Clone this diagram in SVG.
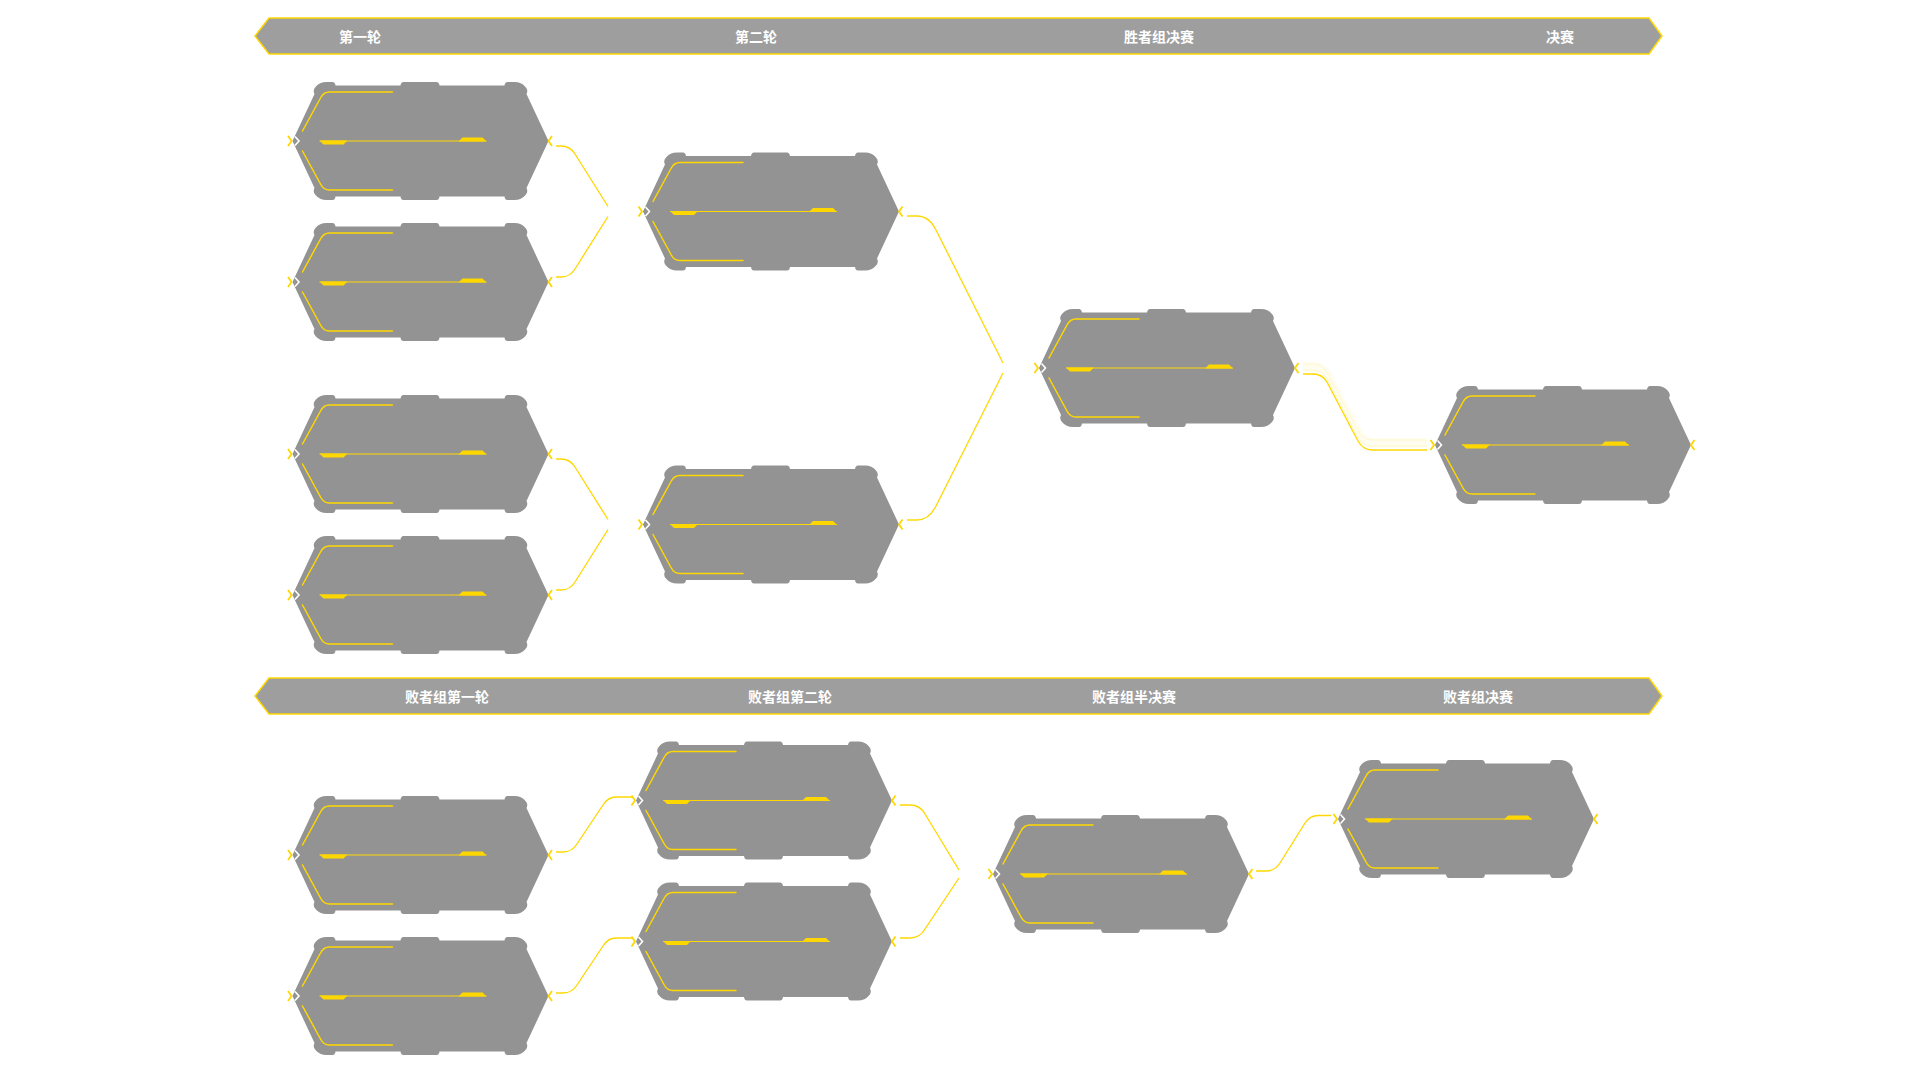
<svg xmlns="http://www.w3.org/2000/svg" xmlns:xlink="http://www.w3.org/1999/xlink" width="1920" height="1080" viewBox="0 0 1920 1080">
<style>
.bar{fill:#9e9e9e;stroke:#ffd700;stroke-width:1.5}
.lbl{font-family:"Noto Sans CJK SC","Noto Sans",sans-serif;font-size:14px;font-weight:bold;fill:#ffffff;text-anchor:middle;dominant-baseline:central}
.body{fill:#939393}
.deco{fill:none;stroke:#ffd700;stroke-width:1.5;stroke-linecap:round;stroke-linejoin:round}
.thin{fill:none;stroke:#ffd700;stroke-width:1}
.blk{fill:#ffd700}
.wch{fill:none;stroke:#ffffff;stroke-width:1.6}
.ych{fill:none;stroke:#ffd700;stroke-width:1.8}
.conn{fill:none;stroke:#ffd700;stroke-width:1.3}
.glow{fill:none;stroke:#fff8cc;stroke-width:1}
</style>
<defs>
<g id="node">
<path class="body" d="M0,0 L22,-47 Q20,-51 23,-54 Q27,-59 34,-59 L40,-59 Q42.5,-59 43,-55.5 L108,-55.5 Q108.5,-59 111,-59 L144,-59 Q146.5,-59 147,-55.5 L212,-55.5 Q212.5,-59 215,-59 L222,-59 Q229,-59 233,-54 Q236,-51 234,-47 L256,0 L234,47 Q236,51 233,54 Q229,59 222,59 L215,59 Q212.5,59 212,55.5 L147,55.5 Q146.5,59 144,59 L111,59 Q108.5,59 108,55.5 L43,55.5 Q42.5,59 40,59 L34,59 Q27,59 23,54 Q20,51 22,47 Z"/>
<path class="deco" d="M100,-49 H37 Q31,-49 28,-43 L10,-10"/>
<path class="deco" d="M100,49 H37 Q31,49 28,43 L10,10"/>
<path class="thin" d="M27,0 H194"/>
<polygon class="blk" points="27,-0.5 55,-0.5 51,3.5 31,3.5"/>
<polygon class="blk" points="166,0.5 194,0.5 190,-3.5 170,-3.5"/>
<polyline class="ych" points="-4.5,-5 -1,0 -4.5,5"/>
<polyline class="wch" points="2.5,-4.5 6.5,0 2.5,4.5"/>
<polyline class="ych" points="259.5,-5 256,0 259.5,5"/>
</g>
</defs>
<rect width="1920" height="1080" fill="#ffffff"/>

<g id="header-winners">
<polygon class="bar" points="255,36 269,18 1649,18 1662,36 1649,54 269,54"/>
<text class="lbl" x="360" y="36">第一轮</text>
<text class="lbl" x="756" y="36">第二轮</text>
<text class="lbl" x="1159" y="36">胜者组决赛</text>
<text class="lbl" x="1560" y="36">决赛</text>
</g>
<g id="header-losers">
<polygon class="bar" points="255,696 269,678 1649,678 1662,696 1649,714 269,714"/>
<text class="lbl" x="447" y="696">败者组第一轮</text>
<text class="lbl" x="790" y="696">败者组第二轮</text>
<text class="lbl" x="1134" y="696">败者组半决赛</text>
<text class="lbl" x="1478" y="696">败者组决赛</text>
</g>

<g id="connectors">
<path class="conn" d="M556,146 H561 Q570,146 575,154 L608,206.5"/>
<path class="conn" d="M556,277 H561 Q570,277 575,269 L608,216.5"/>
<path class="conn" d="M556,459 H561 Q570,459 575,467 L608,519.5"/>
<path class="conn" d="M556,590 H561 Q570,590 575,582 L608,529.5"/>
<path class="conn" d="M907,216 H917 Q929,216 936,230 L1003,363"/>
<path class="conn" d="M907,520 H917 Q929,520 936,506 L1003,373"/>
<g>
<path d="M1303,374 H1313 Q1322,374 1327,382 L1358,441 Q1363,450 1372,450 H1427" transform="translate(0,-7)" fill="none" stroke="#fffdf0" stroke-width="10"/>
<path class="glow" d="M1303,374 H1313 Q1322,374 1327,382 L1358,441 Q1363,450 1372,450 H1427" transform="translate(0,-4)"/>
<path class="glow" d="M1303,374 H1313 Q1322,374 1327,382 L1358,441 Q1363,450 1372,450 H1427" transform="translate(0,-10)"/>
</g>
<path class="conn" d="M1303,374 H1313 Q1322,374 1327,382 L1358,441 Q1363,450 1372,450 H1427"/>
<path class="conn" d="M556,852 H563 Q572,852 577,844 L603,805 Q608,797 616,797 H633"/>
<path class="conn" d="M556,993 H563 Q572,993 577,985 L603,946 Q608,938 616,938 H633"/>
<path class="conn" d="M900,805 H910 Q920,805 925,814 L959,870"/>
<path class="conn" d="M900,938 H910 Q920,938 925,929 L959,878"/>
<path class="conn" d="M1256,871 H1266 Q1275,871 1280,863 L1305,823 Q1310,815.5 1318,815.5 H1331"/>
</g>

<g id="w-r1-1" transform="translate(292.5,141)"><use xlink:href="#node"/></g>
<g id="w-r1-2" transform="translate(292.5,282)"><use xlink:href="#node"/></g>
<g id="w-r1-3" transform="translate(292.5,454)"><use xlink:href="#node"/></g>
<g id="w-r1-4" transform="translate(292.5,595)"><use xlink:href="#node"/></g>
<g id="w-r2-1" transform="translate(643,211.5)"><use xlink:href="#node"/></g>
<g id="w-r2-2" transform="translate(643,524.5)"><use xlink:href="#node"/></g>
<g id="w-final" transform="translate(1039,368)"><use xlink:href="#node"/></g>
<g id="grand-final" transform="translate(1435,445)"><use xlink:href="#node"/></g>
<g id="l-r1-1" transform="translate(292.5,855)"><use xlink:href="#node"/></g>
<g id="l-r1-2" transform="translate(292.5,996)"><use xlink:href="#node"/></g>
<g id="l-r2-1" transform="translate(636,800.5)"><use xlink:href="#node"/></g>
<g id="l-r2-2" transform="translate(636,941.5)"><use xlink:href="#node"/></g>
<g id="l-semi" transform="translate(993,874)"><use xlink:href="#node"/></g>
<g id="l-final" transform="translate(1338,819)"><use xlink:href="#node"/></g>
</svg>
